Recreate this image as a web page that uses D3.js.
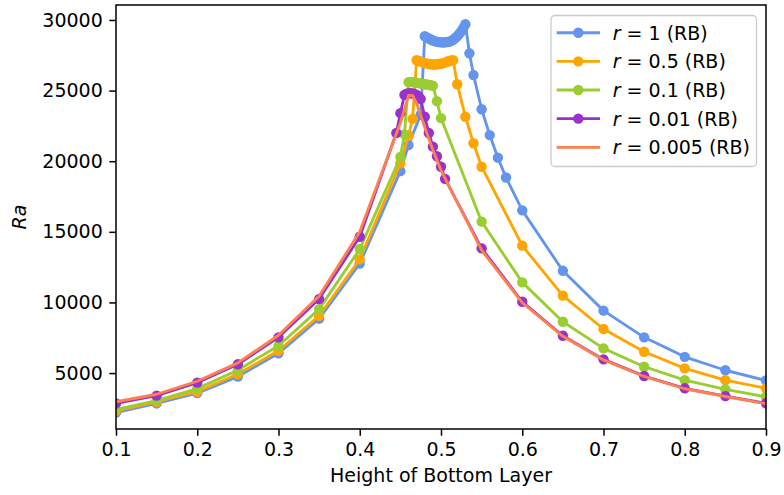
<!DOCTYPE html>
<html>
<head>
<meta charset="utf-8">
<script src="https://cdn.jsdelivr.net/npm/d3@7"></script>
<style>
  html, body { margin: 0; padding: 0; background: #fff; }
  svg { display: block; }
  text { font-family: "DejaVu Sans", sans-serif; }
</style>
</head>
<body>
<svg id="chart" width="784" height="495"></svg>
<script>
// Critical Rayleigh number vs. height of the bottom layer, for several ratios r (RB)
const xTicks = [0.1, 0.2, 0.3, 0.4, 0.5, 0.6, 0.7, 0.8, 0.9];
const yTicks = [5000, 10000, 15000, 20000, 25000, 30000];

const hR1 = [0.1,0.15,0.2,0.25,0.3,0.35,0.4,0.45,0.46,0.475,
  0.48,0.4825,0.485,0.4875,0.49,0.4925,0.495,0.4975,0.5,0.5025,0.505,0.5075,0.51,0.5125,0.515,0.5175,0.52,0.5225,0.525,0.5275,0.53,
  0.535,0.54,0.55,0.56,0.57,0.58,0.6,0.65,0.7,0.75,0.8,0.85,0.9];
const raR1 = [2200,2850,3580,4750,6400,8850,12750,19300,21150,23300,
  28850,28770,28700,28620,28550,28500,28450,28430,28420,28410,28420,28440,28460,28520,28600,28720,28850,29020,29200,29430,29700,
  27640,26100,23680,21850,20250,18850,16520,12240,9420,7530,6150,5200,4480];

const hR05 = [0.1,0.15,0.2,0.25,0.3,0.35,0.4,0.45,0.46,0.465,
  0.47,0.4725,0.475,0.4775,0.48,0.4825,0.485,0.4875,0.49,0.4925,0.495,0.4975,0.5,0.5025,0.505,0.5075,0.51,0.5125,0.515,
  0.52,0.53,0.54,0.55,0.6,0.65,0.7,0.75,0.8,0.85,0.9];
const raR05 = [2330,2970,3680,4930,6580,9060,13050,19850,21800,23000,
  27150,27100,27050,27000,26950,26910,26880,26860,26850,26850,26870,26880,26900,26940,26980,27040,27100,27130,27150,
  25450,23150,21270,19610,14020,10480,8120,6510,5330,4500,3920];

const hR01 = [0.1,0.15,0.2,0.25,0.3,0.35,0.4,0.45,0.455,
  0.46,0.4625,0.465,0.4675,0.47,0.4725,0.475,0.4775,0.48,0.4825,0.485,0.4875,0.49,
  0.495,0.5,0.55,0.6,0.65,0.7,0.75,0.8,0.85,0.9];
const raR01 = [2430,3050,3900,5210,6930,9530,13780,20300,21900,
  25600,25600,25600,25580,25550,25530,25500,25480,25450,25430,25400,25380,25350,
  24250,23050,15720,11420,8630,6750,5450,4500,3850,3320];

const hR001 = [0.1,0.15,0.2,0.25,0.3,0.35,0.4,0.445,0.45,
  0.455,0.4575,0.46,0.4625,0.465,0.4675,0.47,0.4725,0.475,
  0.48,0.485,0.49,0.495,0.5,0.505,0.55,0.6,0.65,0.7,0.75,0.8,0.85,0.9];
const raR001 = [2850,3400,4320,5620,7530,10240,14650,22000,23400,
  24700,24780,24800,24820,24800,24760,24700,24580,24400,
  23150,22000,21030,20350,19610,18750,13830,10050,7640,5970,4790,3920,3370,2860];

const hR0005 = [0.1,0.15,0.2,0.25,0.3,0.35,0.4,0.45,0.46,0.465,0.47,0.48,0.49,0.5,0.55,0.6,0.65,0.7,0.75,0.8,0.85,0.9];
const raR0005 = [2970,3500,4420,5720,7680,10450,15000,22700,24650,24650,24100,22400,20800,19350,13700,9980,7600,5930,4760,3890,3340,2830];

const seriesLabels = ["1", "0.5", "0.1", "0.01", "0.005"];
const seriesColors = ["#6495ED", "#FFA500", "#9ACD32", "#9932CC", "#FF7F50"];
const seriesMarkers = [true, true, true, true, false];

const series = [
  [hR1, raR1], [hR05, raR05], [hR01, raR01], [hR001, raR001], [hR0005, raR0005]
].map(([h, ra], i) => ({
  label: seriesLabels[i],
  color: seriesColors[i],
  markers: seriesMarkers[i],
  points: h.map((x, j) => ({ x, y: ra[j] }))
}));

const margin = { left: 116, right: 18, top: 5, bottom: 66 };
const W = 784, H = 495;
const x = d3.scaleLinear().domain([0.1, 0.9]).range([margin.left, W - margin.right]);
const y = d3.scaleLinear().domain([1040, 31060]).range([H - margin.bottom, margin.top]);

const svg = d3.select("#chart");
const FS = 19;

// clip marks to the axes area
svg.append("defs").append("clipPath").attr("id", "plotClip")
  .append("rect")
  .attr("x", margin.left).attr("y", margin.top)
  .attr("width", W - margin.left - margin.right)
  .attr("height", H - margin.top - margin.bottom);

const plot = svg.append("g").attr("clip-path", "url(#plotClip)");
const line = d3.line().x(d => x(d.x)).y(d => y(d.y));

series.forEach(s => {
  const g = plot.append("g");
  g.append("path")
    .attr("d", line(s.points))
    .attr("fill", "none")
    .attr("stroke", s.color)
    .attr("stroke-width", 2.85)
    .attr("stroke-linejoin", "round")
    .attr("stroke-linecap", "butt");
  if (s.markers) {
    g.selectAll("circle").data(s.points).join("circle")
      .attr("cx", d => x(d.x)).attr("cy", d => y(d.y))
      .attr("r", 5.2).attr("fill", s.color);
  }
});

// axes
const xAxis = svg.append("g")
  .attr("transform", `translate(0,${H - margin.bottom})`)
  .call(d3.axisBottom(x).tickValues(xTicks).tickFormat(d3.format(".1f")).tickSize(6.7).tickPadding(6.5).tickSizeOuter(0));
const yAxis = svg.append("g")
  .attr("transform", `translate(${margin.left},0)`)
  .call(d3.axisLeft(y).tickValues(yTicks).tickFormat(d3.format("d")).tickSize(6.7).tickPadding(6.5).tickSizeOuter(0));

[xAxis, yAxis].forEach(a => {
  a.select(".domain").remove();
  a.selectAll(".tick line").attr("stroke", "#000").attr("stroke-width", 1.5);
  a.selectAll(".tick text").attr("font-size", FS).attr("fill", "#000")
    .attr("font-family", "DejaVu Sans, sans-serif");
});

// frame
svg.append("rect")
  .attr("x", margin.left).attr("y", margin.top)
  .attr("width", W - margin.left - margin.right)
  .attr("height", H - margin.top - margin.bottom)
  .attr("fill", "none").attr("stroke", "#000").attr("stroke-width", 1.5);

// axis titles
svg.append("text")
  .attr("x", (margin.left + W - margin.right) / 2)
  .attr("y", 482)
  .attr("text-anchor", "middle")
  .attr("font-size", FS)
  .text("Height of Bottom Layer");

svg.append("text")
  .attr("transform", `translate(26,${(margin.top + H - margin.bottom) / 2}) rotate(-90)`)
  .attr("text-anchor", "middle")
  .attr("font-size", FS)
  .attr("font-style", "italic")
  .text("Ra");

// legend
const legend = svg.append("g");
legend.append("rect")
  .attr("x", 551).attr("y", 15.5).attr("width", 205.5).attr("height", 151)
  .attr("rx", 4).attr("ry", 4)
  .attr("fill", "#fff").attr("fill-opacity", 0.8)
  .attr("stroke", "#cccccc").attr("stroke-width", 1.3);

series.forEach((s, i) => {
  const cy = 32.7 + i * 28.65;
  const row = legend.append("g");
  row.append("line")
    .attr("x1", 556.7).attr("x2", 600).attr("y1", cy).attr("y2", cy)
    .attr("stroke", s.color).attr("stroke-width", 2.85);
  if (s.markers) {
    row.append("circle").attr("cx", 578.3).attr("cy", cy).attr("r", 5.2).attr("fill", s.color);
  }
  const t = row.append("text")
    .attr("x", 612.7).attr("y", cy + 7)
    .attr("font-size", FS);
  t.append("tspan").attr("font-style", "italic").text("r");
  t.append("tspan").text(` = ${s.label} (RB)`);
});
</script>
</body>
</html>
